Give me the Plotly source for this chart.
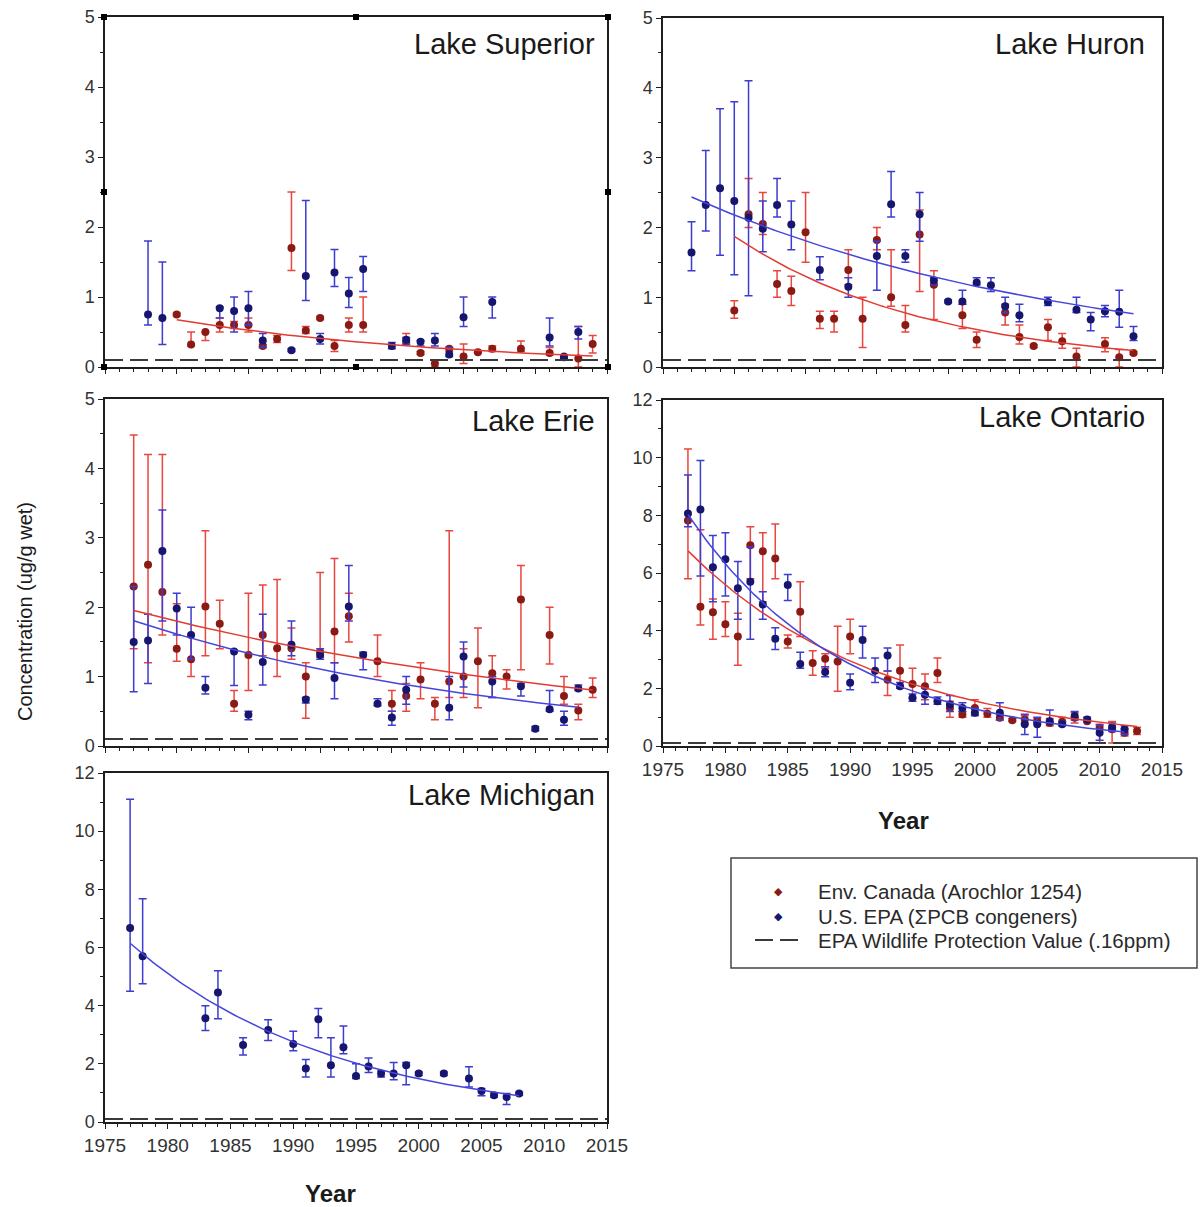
import numpy as np
import plotly.graph_objects as go

W, H = 1201, 1207
EPA_WPV = 0.1  # wildlife protection line as drawn

# ---------------- Lake Superior ----------------
sup_epa_year = [1978, 1979, 1983, 1984, 1985, 1986, 1988, 1989, 1990, 1991, 1992, 1993, 1995, 1996, 1997, 1998, 1999, 2000, 2002, 2006, 2007, 2008]
sup_epa_val = [0.75, 0.70, 0.84, 0.80, 0.84, 0.38, 0.24, 1.30, 0.40, 1.35, 1.05, 1.40, 0.30, 0.39, 0.36, 0.38, 0.18, 0.71, 0.93, 0.42, 0.14, 0.50]
sup_epa_lo = [0.60, 0.32, 0.70, 0.50, 0.60, 0.28, 0.22, 0.95, 0.33, 1.15, 0.85, 1.08, 0.26, 0.33, 0.30, 0.30, 0.15, 0.58, 0.70, 0.30, 0.12, 0.40]
sup_epa_hi = [1.80, 1.50, 0.86, 1.00, 1.08, 0.48, 0.26, 2.38, 0.48, 1.68, 1.28, 1.58, 0.35, 0.42, 0.38, 0.48, 0.28, 1.00, 1.00, 0.70, 0.16, 0.58]

sup_can_year = [1980, 1981, 1982, 1983, 1984, 1985, 1986, 1987, 1988, 1989, 1990, 1991, 1992, 1993, 1996, 1997, 1998, 1999, 2000, 2001, 2002, 2004, 2006, 2007, 2008, 2009]
sup_can_val = [0.75, 0.32, 0.50, 0.60, 0.60, 0.60, 0.30, 0.40, 1.70, 0.52, 0.70, 0.30, 0.60, 0.60, 0.36, 0.20, 0.05, 0.26, 0.15, 0.21, 0.26, 0.26, 0.20, 0.15, 0.12, 0.33]
sup_can_lo = [0.73, 0.30, 0.38, 0.50, 0.55, 0.50, 0.28, 0.35, 1.38, 0.48, 0.68, 0.22, 0.50, 0.50, 0.32, 0.18, 0.00, 0.22, 0.05, 0.20, 0.22, 0.22, 0.17, 0.13, 0.00, 0.20]
sup_can_hi = [0.77, 0.50, 0.50, 0.70, 0.65, 0.70, 0.32, 0.45, 2.50, 0.58, 0.72, 0.38, 0.70, 1.00, 0.48, 0.22, 0.10, 0.28, 0.33, 0.23, 0.30, 0.37, 0.28, 0.17, 0.58, 0.45]

# ---------------- Lake Huron ----------------
hur_epa_year = [1977, 1978, 1979, 1980, 1981, 1982, 1983, 1984, 1986, 1988, 1990, 1991, 1992, 1993, 1994, 1995, 1996, 1997, 1998, 1999, 2000, 2002, 2004, 2005, 2006, 2007, 2008]
hur_epa_val = [1.64, 2.32, 2.56, 2.38, 2.14, 1.98, 2.32, 2.04, 1.39, 1.15, 1.59, 2.33, 1.59, 2.19, 1.24, 0.94, 0.94, 1.21, 1.17, 0.87, 0.74, 0.93, 0.82, 0.68, 0.80, 0.79, 0.44]
hur_epa_lo = [1.38, 1.95, 1.60, 1.32, 1.02, 1.65, 2.15, 1.68, 1.25, 1.00, 1.10, 2.15, 1.50, 1.80, 1.18, 0.92, 0.90, 1.18, 1.08, 0.78, 0.65, 0.88, 0.78, 0.52, 0.72, 0.57, 0.38]
hur_epa_hi = [2.08, 3.10, 3.70, 3.80, 4.10, 2.38, 2.70, 2.38, 1.58, 1.28, 1.80, 2.80, 1.68, 2.50, 1.28, 0.96, 1.10, 1.28, 1.28, 1.00, 0.90, 1.00, 1.00, 0.78, 0.88, 1.10, 0.58]

hur_can_year = [1980, 1981, 1982, 1983, 1984, 1985, 1986, 1987, 1988, 1989, 1990, 1991, 1992, 1993, 1994, 1996, 1997, 1999, 2000, 2001, 2002, 2003, 2004, 2006, 2007, 2008]
hur_can_val = [0.81, 2.19, 2.05, 1.19, 1.09, 1.93, 0.69, 0.69, 1.39, 0.69, 1.82, 1.00, 0.60, 1.90, 1.18, 0.74, 0.39, 0.78, 0.43, 0.30, 0.57, 0.37, 0.15, 0.33, 0.14, 0.20]
hur_can_lo = [0.70, 2.00, 1.90, 1.00, 0.88, 1.50, 0.55, 0.50, 1.18, 0.28, 1.68, 0.87, 0.50, 1.08, 0.68, 0.55, 0.28, 0.60, 0.33, 0.28, 0.38, 0.27, 0.00, 0.22, 0.00, 0.18]
hur_can_hi = [0.95, 2.70, 2.50, 1.38, 1.30, 2.50, 0.80, 0.80, 1.68, 1.00, 2.00, 1.68, 0.88, 2.25, 1.38, 0.90, 0.50, 0.90, 0.60, 0.32, 0.68, 0.48, 0.27, 0.42, 0.25, 0.22]

# ---------------- Lake Erie ----------------
eri_epa_year = [1977, 1978, 1979, 1980, 1981, 1982, 1984, 1985, 1986, 1988, 1989, 1990, 1991, 1992, 1993, 1994, 1995, 1996, 1999, 2000, 2002, 2004, 2005, 2006, 2007, 2008]
eri_epa_val = [1.50, 1.52, 2.81, 1.98, 1.60, 0.84, 1.36, 0.45, 1.21, 1.46, 0.67, 1.31, 0.98, 2.01, 1.31, 0.61, 0.41, 0.81, 0.55, 1.29, 0.93, 0.86, 0.25, 0.53, 0.38, 0.83]
eri_epa_lo = [0.78, 0.90, 1.80, 1.60, 1.25, 0.75, 0.87, 0.38, 0.88, 1.30, 0.62, 1.25, 0.68, 1.80, 1.10, 0.58, 0.30, 0.60, 0.38, 0.85, 0.70, 0.72, 0.22, 0.50, 0.30, 0.80]
eri_epa_hi = [2.30, 1.90, 3.40, 2.20, 2.00, 1.00, 1.38, 0.50, 1.90, 1.80, 0.70, 1.40, 1.20, 2.60, 1.35, 0.68, 0.50, 1.00, 1.00, 1.50, 1.00, 0.90, 0.28, 0.80, 0.50, 0.88]

eri_can_year = [1977, 1978, 1979, 1980, 1981, 1982, 1983, 1984, 1985, 1986, 1987, 1988, 1989, 1990, 1991, 1992, 1994, 1995, 1996, 1997, 1998, 1999, 2000, 2001, 2002, 2003, 2004, 2006, 2007, 2008, 2009]
eri_can_val = [2.30, 2.61, 2.22, 1.40, 1.25, 2.01, 1.76, 0.61, 1.31, 1.60, 1.41, 1.41, 1.00, 1.35, 1.65, 1.87, 1.22, 0.61, 0.72, 0.96, 0.61, 0.93, 1.00, 1.22, 1.05, 1.00, 2.11, 1.60, 0.72, 0.51, 0.81]
eri_can_lo = [1.40, 1.20, 1.60, 1.22, 1.00, 1.30, 1.40, 0.50, 0.80, 1.30, 1.00, 1.25, 0.40, 1.28, 1.20, 1.50, 1.00, 0.50, 0.50, 0.68, 0.38, 0.70, 0.70, 0.55, 0.70, 0.82, 1.10, 1.18, 0.60, 0.38, 0.70]
eri_can_hi = [4.48, 4.20, 4.20, 2.05, 1.60, 3.10, 2.10, 0.80, 2.20, 2.32, 2.40, 1.70, 1.20, 2.50, 2.70, 2.20, 1.60, 0.80, 0.90, 1.20, 0.70, 3.10, 1.40, 1.70, 1.30, 1.10, 2.60, 2.00, 1.00, 0.60, 0.98]

# ---------------- Lake Ontario ----------------
ont_epa_year = [1977, 1978, 1979, 1980, 1981, 1982, 1983, 1984, 1985, 1986, 1988, 1990, 1991, 1992, 1993, 1994, 1995, 1996, 1997, 1998, 1999, 2000, 2002, 2004, 2005, 2006, 2007, 2008, 2009, 2010, 2011, 2012]
ont_epa_val = [8.06, 8.20, 6.20, 6.48, 5.47, 5.70, 4.91, 3.72, 5.58, 2.84, 2.57, 2.19, 3.68, 2.61, 3.14, 2.07, 1.67, 1.78, 1.55, 1.44, 1.32, 1.15, 1.15, 0.75, 0.75, 0.86, 0.75, 1.04, 0.92, 0.46, 0.66, 0.58]
ont_epa_lo = [7.60, 5.90, 5.00, 5.20, 4.40, 3.70, 4.40, 3.35, 5.05, 2.70, 2.40, 1.95, 3.05, 2.20, 2.60, 2.00, 1.55, 1.45, 1.45, 1.20, 1.20, 1.05, 0.90, 0.40, 0.30, 0.80, 0.70, 0.90, 0.85, 0.20, 0.50, 0.40]
ont_epa_hi = [9.40, 9.90, 7.30, 7.40, 6.40, 6.90, 5.35, 4.10, 5.95, 3.25, 2.75, 2.50, 4.15, 3.05, 3.40, 2.20, 1.80, 2.00, 1.70, 1.75, 1.50, 1.30, 1.50, 1.10, 1.00, 1.25, 0.85, 1.20, 1.00, 0.72, 0.80, 0.70]

ont_can_year = [1977, 1978, 1979, 1980, 1981, 1982, 1983, 1984, 1985, 1986, 1987, 1988, 1989, 1990, 1993, 1994, 1995, 1996, 1997, 1998, 1999, 2000, 2001, 2002, 2003, 2004, 2005, 2006, 2007, 2008, 2009, 2010, 2011, 2012, 2013]
ont_can_val = [7.82, 4.83, 4.64, 4.22, 3.80, 6.96, 6.75, 6.50, 3.62, 4.66, 2.88, 3.03, 2.93, 3.80, 2.30, 2.61, 2.15, 2.07, 2.53, 1.32, 1.09, 1.32, 1.12, 0.98, 0.89, 0.92, 0.86, 0.80, 0.84, 0.98, 0.86, 0.63, 0.58, 0.46, 0.52]
ont_can_lo = [5.80, 4.20, 3.70, 3.80, 2.80, 5.80, 5.00, 5.80, 3.40, 3.80, 2.45, 2.70, 1.90, 3.20, 1.75, 2.10, 1.65, 1.60, 2.20, 1.00, 1.00, 1.10, 1.00, 0.90, 0.85, 0.80, 0.80, 0.70, 0.75, 0.80, 0.82, 0.10, 0.10, 0.35, 0.40]
ont_can_hi = [10.30, 7.50, 5.10, 5.00, 4.60, 7.60, 7.40, 7.70, 3.85, 5.70, 3.30, 3.20, 4.15, 4.40, 2.60, 3.50, 2.70, 2.50, 3.05, 1.55, 1.20, 1.60, 1.30, 1.10, 0.95, 1.05, 0.95, 0.95, 1.00, 1.15, 0.90, 0.75, 0.85, 0.60, 0.65]

# ---------------- Lake Michigan ----------------
mic_epa_year = [1977, 1978, 1983, 1984, 1986, 1988, 1990, 1991, 1992, 1993, 1994, 1995, 1996, 1997, 1998, 1999, 2000, 2002, 2004, 2005, 2006, 2007, 2008]
mic_epa_val = [6.67, 5.70, 3.57, 4.45, 2.65, 3.16, 2.68, 1.84, 3.53, 1.95, 2.57, 1.58, 1.91, 1.67, 1.67, 1.95, 1.67, 1.67, 1.50, 1.07, 0.92, 0.86, 0.98]
mic_epa_lo = [4.50, 4.75, 3.15, 3.55, 2.30, 2.80, 2.45, 1.55, 2.90, 1.55, 2.35, 1.50, 1.70, 1.55, 1.45, 1.28, 1.60, 1.60, 1.20, 0.90, 0.85, 0.60, 0.92]
mic_epa_hi = [11.10, 7.68, 4.00, 5.20, 2.90, 3.52, 3.12, 2.15, 3.90, 2.90, 3.30, 2.00, 2.20, 1.75, 2.05, 2.05, 1.72, 1.72, 1.90, 1.15, 1.00, 0.98, 1.02]

legend_labels = ["Env. Canada (Arochlor 1254)", "U.S. EPA (\u03a3PCB congeners)",
                 "EPA Wildlife Protection Value (.16ppm)"]

RED_MK = "#8a1a14"
RED_ERR = "#e8463e"
RED_LINE = "#e23b34"
BLUE_MK = "#16166e"
BLUE_ERR = "#3c3cd0"
BLUE_LINE = "#4646dc"
AX = "#1e1e1e"
TXT = "#333333"
FONT = "Liberation Sans, Arial, sans-serif"


def exp_fit(xs, ys, method):
    """Exponential decay regression: 'log' = log-linear fit, 'ls' = least squares in y."""
    x = np.asarray(xs, float)
    y = np.asarray(ys, float)
    t = x - x.min()
    if method == "log":
        b, a = np.polyfit(t, np.log(y), 1)
        amp, k = np.exp(a), -b
    else:
        best = None
        for kk in np.linspace(0.0, 0.25, 2501):
            e = np.exp(-kk * t)
            aa = float(y @ e) / float(e @ e)
            sse = float(((y - aa * e) ** 2).sum())
            if best is None or sse < best[0]:
                best = (sse, aa, kk)
        amp, k = best[1], best[2]
    xx = np.linspace(x.min(), x.max(), 120)
    return xx, amp * np.exp(-k * (xx - x.min()))


def px_x(p):
    return p / W


def px_y(p):
    return 1 - p / H


fig = go.Figure()

# (title, axis suffix, x px, y px, x range, y range, y dtick, y minor, x labels, title right px, title y px, series)
panels = [
    ("Lake Superior", "", (105, 607), (17, 367), [1975, 2010], [0, 5], 1, 0.5, False, 597, 44,
     [(sup_can_year, sup_can_val, sup_can_lo, sup_can_hi, "can", "log"),
      (sup_epa_year, sup_epa_val, sup_epa_lo, sup_epa_hi, "epa", None)]),
    ("Lake Huron", "2", (663, 1162), (18, 367), [1975, 2010], [0, 5], 1, 0.5, False, 1147, 44,
     [(hur_can_year, hur_can_val, hur_can_lo, hur_can_hi, "can", "log"),
      (hur_epa_year, hur_epa_val, hur_epa_lo, hur_epa_hi, "epa", "ls")]),
    ("Lake Erie", "3", (105, 607), (399, 746), [1975, 2010], [0, 5], 1, 0.5, False, 597, 421,
     [(eri_can_year, eri_can_val, eri_can_lo, eri_can_hi, "can", "ls"),
      (eri_epa_year, eri_epa_val, eri_epa_lo, eri_epa_hi, "epa", "ls")]),
    ("Lake Ontario", "4", (663, 1162), (400, 746), [1975, 2015], [0, 12], 2, 1, True, 1147, 417,
     [(ont_can_year, ont_can_val, ont_can_lo, ont_can_hi, "can", "ls"),
      (ont_epa_year, ont_epa_val, ont_epa_lo, ont_epa_hi, "epa", "ls")]),
    ("Lake Michigan", "5", (105, 607), (773, 1122), [1975, 2015], [0, 12], 2, 1, True, 597, 795,
     [(mic_epa_year, mic_epa_val, mic_epa_lo, mic_epa_hi, "epa", "ls")]),
]

layout_axes = {}
annotations = []
shapes = []

for name, sfx, xd, yd, xr, yr, ydt, ymn, showx, tx, ty, series in panels:
    xa = "x" + sfx
    ya = "y" + sfx
    for yrs, val, lo, hi, kind, trend in series:
        val_a = np.array(val)
        plus = np.array(hi) - val_a
        minus = val_a - np.array(lo)
        mk = RED_MK if kind == "can" else BLUE_MK
        ec = RED_ERR if kind == "can" else BLUE_ERR
        fig.add_trace(go.Scatter(
            x=yrs, y=val, mode="markers", xaxis=xa, yaxis=ya, showlegend=False,
            marker=dict(color=mk, size=8, symbol="circle", line=dict(width=0)),
            error_y=dict(type="data", symmetric=False, array=plus, arrayminus=minus,
                         color=ec, thickness=1.5, width=4),
        ))
    for yrs, val, lo, hi, kind, trend in series:
        if trend:
            xx, yy = exp_fit(yrs, val, trend)
            fig.add_trace(go.Scatter(
                x=xx, y=yy, mode="lines", xaxis=xa, yaxis=ya, showlegend=False,
                line=dict(color=RED_LINE if kind == "can" else BLUE_LINE, width=1.5),
                hoverinfo="skip"))
    shapes.append(dict(type="line", xref=xa + " domain", yref=ya, x0=0, x1=1,
                       y0=EPA_WPV, y1=EPA_WPV,
                       line=dict(color="#3a3a3a", width=2, dash="18px,7px")))
    layout_axes["xaxis" + sfx] = dict(
        domain=[px_x(xd[0]), px_x(xd[1])], anchor=ya, range=xr, dtick=5, tick0=1975,
        showline=True, linecolor=AX, linewidth=1.5, mirror=True,
        ticks="outside", ticklen=5, tickwidth=1, tickcolor=AX,
        minor=dict(ticks="outside", ticklen=3, dtick=1, tickcolor=AX, tickwidth=1),
        showgrid=False, zeroline=False, showticklabels=showx, automargin=False,
        tickfont=dict(family=FONT, size=19, color=TXT),
    )
    layout_axes["yaxis" + sfx] = dict(
        domain=[px_y(yd[1]), px_y(yd[0])], anchor=xa, range=yr, dtick=ydt,
        showline=True, linecolor=AX, linewidth=1.5, mirror=True,
        ticks="outside", ticklen=5, tickwidth=1, tickcolor=AX,
        minor=dict(ticks="outside", ticklen=3, dtick=ymn, tickcolor=AX, tickwidth=1),
        showgrid=False, zeroline=False, automargin=False,
        tickfont=dict(family=FONT, size=18, color=TXT),
    )
    annotations.append(dict(
        text=name, xref="paper", yref="paper",
        x=px_x(tx), y=px_y(ty), xanchor="right", yanchor="middle",
        showarrow=False, font=dict(family=FONT, size=29, color="#1a1a1a")))

# Year titles
for cx, cy in [(903, 820), (330, 1193)]:
    annotations.append(dict(text="<b>Year</b>", xref="paper", yref="paper", x=px_x(cx), y=px_y(cy),
                            xanchor="center", yanchor="middle", showarrow=False,
                            font=dict(family=FONT, size=24, color="#1a1a1a")))
# Y title
annotations.append(dict(text="Concentration (ug/g wet)", xref="paper", yref="paper",
                        x=px_x(25), y=px_y(612), xanchor="center", yanchor="middle",
                        textangle=-90, showarrow=False,
                        font=dict(family=FONT, size=20, color="#1a1a1a")))

# Selection handles around the Superior panel
for hx, hy in [(104, 17), (356, 17), (608, 17), (104, 192), (608, 192), (104, 367), (356, 367), (608, 367)]:
    shapes.append(dict(type="rect", xref="paper", yref="paper",
                       x0=px_x(hx - 3), x1=px_x(hx + 3), y0=px_y(hy + 3), y1=px_y(hy - 3),
                       fillcolor="black", line=dict(width=0)))

# Legend box and entries
shapes.append(dict(type="rect", xref="paper", yref="paper",
                   x0=px_x(731), x1=px_x(1197), y0=px_y(968), y1=px_y(858),
                   line=dict(color="#444444", width=1.5), fillcolor="rgba(0,0,0,0)"))
row_y = [891, 916, 940]
for lab, ry in zip(legend_labels, row_y):
    annotations.append(dict(text=lab, xref="paper", yref="paper", x=px_x(816), y=px_y(ry),
                            xanchor="left", yanchor="middle", showarrow=False,
                            font=dict(family=FONT, size=20.5, color="#2a2a2a")))
for col, ry in [(RED_MK, row_y[0]), (BLUE_MK, row_y[1])]:
    annotations.append(dict(text="\u25c6", xref="paper", yref="paper", x=px_x(778), y=px_y(ry),
                            xanchor="center", yanchor="middle", showarrow=False,
                            font=dict(family="DejaVu Sans", size=11, color=col)))
shapes.append(dict(type="line", xref="paper", yref="paper", x0=px_x(755), x1=px_x(801),
                   y0=px_y(row_y[2]), y1=px_y(row_y[2]),
                   line=dict(color="#3a3a3a", width=2, dash="18px,7px")))

fig.update_layout(
    width=W, height=H, margin=dict(l=0, r=0, t=0, b=0, pad=0, autoexpand=False),
    paper_bgcolor="white", plot_bgcolor="white",
    showlegend=False,
    annotations=annotations, shapes=shapes,
    **layout_axes,
)

fig.write_html("out.html")
